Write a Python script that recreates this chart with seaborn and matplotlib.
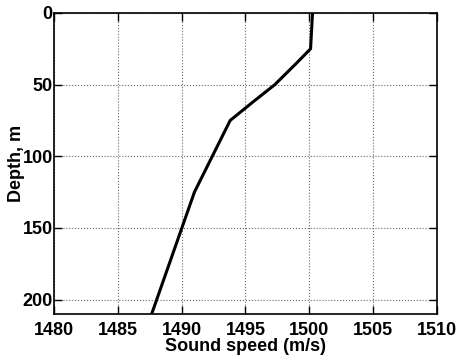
import numpy as np
import pandas as pd
import matplotlib
matplotlib.use("Agg")
import matplotlib.pyplot as plt
import seaborn as sns

# sound speed profile
depth = [0, 25, 35, 50, 62, 75, 125, 210]
speed = [1500.25, 1500.1, 1499.0, 1497.3, 1495.6, 1493.8, 1491.0, 1487.65]

x_ticks = [1480, 1485, 1490, 1495, 1500, 1505, 1510]
y_ticks = [0, 50, 100, 150, 200]

df = pd.DataFrame({'Depth': depth, 'Speed': speed})

sns.set_style("ticks")
plt.rcParams['font.family'] = ['Liberation Sans', 'DejaVu Sans']
plt.rcParams['font.weight'] = 'bold'

fig = plt.figure(figsize=(4.58, 3.6), dpi=100)
ax = fig.add_axes([0.118, 0.128, 0.836, 0.836])

sns.lineplot(data=df, x='Speed', y='Depth', sort=False, estimator=None,
             color='black', linewidth=2.2, ax=ax)

ax.set_xlim(1480, 1510)
ax.set_ylim(210, 0)
ax.set_xticks(x_ticks)
ax.set_yticks(y_ticks)
ax.grid(True, linestyle=':', color='#666666', linewidth=0.8)
ax.tick_params(direction='in', length=6, width=1, top=True, right=True,
               labelsize=13, colors='black')
ax.tick_params(axis='x', pad=6)
ax.tick_params(axis='y', pad=1)
for s in ax.spines.values():
    s.set_visible(True)
    s.set_color('black')
    s.set_linewidth(1.2)
ax.set_xlabel('Sound speed (m/s)', fontsize=13, fontweight='bold',
              color='black', labelpad=-1)
ax.set_ylabel('Depth, m', fontsize=13, fontweight='bold',
              color='black', labelpad=-2)

fig.savefig('out.png', dpi=100)
